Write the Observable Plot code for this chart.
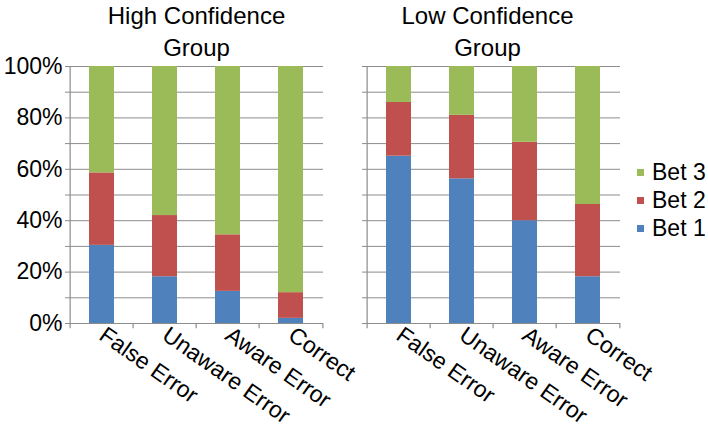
<!DOCTYPE html>
<html>
<head>
<meta charset="utf-8">
<script src="https://cdn.jsdelivr.net/npm/d3@7"></script>
<script src="https://cdn.jsdelivr.net/npm/@observablehq/plot@0.6"></script>
<style>
  body { margin: 0; background: #fff; }
  #wrap { position: relative; width: 708px; height: 433px; font-family: "Liberation Sans", Arial, sans-serif; }
  #legend { position: absolute; left: 637px; top: 158px; font-size: 23px; color: #000; }
  #legend .row { display: flex; align-items: center; height: 28px; white-space: nowrap; }
  #legend .sw { width: 7px; height: 7px; margin-right: 8px; flex: none; }
</style>
</head>
<body>
<div id="wrap"></div>
<script>
const categories = ["False Error", "Unaware Error", "Aware Error", "Correct"];
const groups = ["High Confidence Group", "Low Confidence Group"];
const groupTitles = ["High Confidence\nGroup", "Low Confidence\nGroup"];
const series = ["Bet 1", "Bet 2", "Bet 3"];
const colors = ["#4F81BD", "#C0504D", "#9BBB59"];

// percentages per category (order of categories)
const highBet1 = [30.4, 18.2, 12.5, 2.0];
const highBet2 = [28.2, 23.8, 22.0, 10.0];
const highBet3 = [41.4, 58.0, 65.5, 88.0];
const lowBet1 = [65.1, 56.3, 40.0, 18.2];
const lowBet2 = [20.9, 24.7, 30.5, 28.1];
const lowBet3 = [14.0, 19.0, 29.5, 53.7];

const yGridTicks = d3.range(0, 101, 10);
const yLabelTicks = d3.range(0, 101, 20);

const table = [];
const bySeries = [[highBet1, highBet2, highBet3], [lowBet1, lowBet2, lowBet3]];
groups.forEach((g, gi) => {
  series.forEach((s, si) => {
    categories.forEach((c, ci) => {
      table.push({group: g, category: c, series: s, value: bySeries[gi][si][ci]});
    });
  });
});
const titles = groups.map((g, i) => ({group: g, title: groupTitles[i]}));

const grey = "#8c8c8c";
const step = 255 / categories.length;
const titleOpts = {fx: "group", text: "title", frameAnchor: "top", lineAnchor: "bottom", dy: -11, fontSize: 24, lineHeight: 1.33};

const chart = Plot.plot({
  width: 708,
  height: 433,
  marginLeft: 68,
  marginRight: 87,
  marginTop: 66,
  marginBottom: 110,
  style: {fontFamily: "'Liberation Sans', Arial, sans-serif", fontSize: "23px", color: "#000", background: "#fff"},
  fx: {domain: groups, paddingInner: 0.144, paddingOuter: 0, axis: null, label: null},
  x: {domain: categories, paddingInner: 0.61, paddingOuter: 0.305, axis: null, label: null},
  y: {domain: [0, 100], axis: null, label: null},
  color: {domain: series, range: colors},
  marks: [
    Plot.gridY(yGridTicks, {stroke: grey, strokeOpacity: 1, strokeWidth: 1}),
    Plot.barY(table, {fx: "group", x: "category", y: "value", fill: "series"}),
    Plot.ruleX(categories.slice(0, 1), {x: d => d, y1: 0, y2: 100, dx: -step / 2, stroke: grey, strokeWidth: 1.2}),
    Plot.ruleY([0], {stroke: grey, strokeWidth: 1.2}),
    Plot.ruleX(categories, {x: d => d, y1: 0, y2: -2, dx: -step / 2, stroke: grey, strokeWidth: 1.2}),
    Plot.ruleX(categories.slice(-1), {x: d => d, y1: 0, y2: -2, dx: step / 2, stroke: grey, strokeWidth: 1.2}),
    Plot.axisY({ticks: yGridTicks, tickSize: 4, tickFormat: () => "", facetAnchor: null, stroke: grey, label: null}),
    Plot.axisY({ticks: yLabelTicks, tickSize: 0, tickPadding: 7, tickFormat: d => d + "%", fontSize: 23, facetAnchor: "left", label: null}),
    Plot.axisX({tickRotate: 35, tickSize: 0, tickPadding: 9, fontSize: 23, label: null}),
    Plot.text(titles.slice(0, 1), titleOpts),
    Plot.text(titles.slice(1), {...titleOpts, dx: -6})
  ]
});

const wrap = document.getElementById("wrap");
wrap.appendChild(chart);

const legend = document.createElement("div");
legend.id = "legend";
[2, 1, 0].forEach(i => {
  const row = document.createElement("div");
  row.className = "row";
  const sw = document.createElement("span");
  sw.className = "sw";
  sw.style.background = colors[i];
  const t = document.createElement("span");
  t.textContent = series[i];
  row.appendChild(sw);
  row.appendChild(t);
  legend.appendChild(row);
});
wrap.appendChild(legend);
</script>
</body>
</html>
